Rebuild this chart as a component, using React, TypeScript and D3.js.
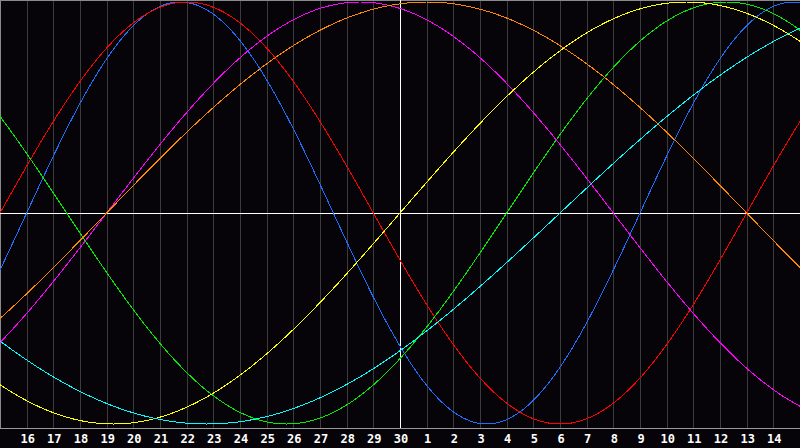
import React, { useEffect, useRef } from "react";
import * as d3 from "d3";

// Day labels on the grid lines (index 1..29); index 15 is "today" (30)
const dayLabels = ["16","17","18","19","20","21","22","23","24","25","26","27","28","29","30","1","2","3","4","5","6","7","8","9","10","11","12","13","14"];
const todayIndex = 15;
// cycles: period in days, phase (days into the cycle on "today")
const cycleNames = ["Physical","Emotional","Intellectual","Intuitive","Aesthetic","Awareness","Spiritual"];
const cyclePeriods = [23, 28, 33, 38, 43, 48, 53];
const cyclePhases = [14, 15, 29, 11, 0, 11, 47];
const cycleColors = ["#1f6fff", "#ff0000", "#00ee00", "#ff00ff", "#ffff00", "#ff8800", "#00ffff"];

const W = 800, H = 448;

export default function App() {
  const ref = useRef<SVGSVGElement>(null);
  useEffect(() => {
    document.body.style.margin = "0";
    const svg = d3.select(ref.current);
    svg.selectAll("*").remove();
    const x = d3.scaleLinear().domain([0, 30]).range([0, 800]);
    const y = d3.scaleLinear().domain([-1, 1]).range([424, 2]);
    svg.append("rect").attr("width", W).attr("height", H).attr("fill", "#060408");
    // grid
    const g = svg.append("g").attr("shape-rendering", "crispEdges");
    g.selectAll("line.grid").data(dayLabels).enter().append("line")
      .attr("x1", (_, i) => Math.round(x(i + 1)) + 0.5).attr("x2", (_, i) => Math.round(x(i + 1)) + 0.5)
      .attr("y1", 0).attr("y2", 428)
      .attr("stroke", "#3c3c3c").attr("stroke-width", 1);
    // border
    g.append("line").attr("x1", 0.5).attr("x2", 0.5).attr("y1", 0).attr("y2", 429).attr("stroke", "#8a8a8a");
    g.append("line").attr("x1", 0).attr("x2", 800).attr("y1", 0.5).attr("y2", 0.5).attr("stroke", "#8a8a8a");
    g.append("line").attr("x1", 0).attr("x2", 800).attr("y1", 428.5).attr("y2", 428.5).attr("stroke", "#9a9a9a");
    // curves
    const steps = d3.range(0, 30.0001, 0.02);
    const line = d3.line<number>().x(d => x(d)).y(d => d);
    cyclePeriods.forEach((p, ci) => {
      const pts: [number, number][] = steps.map(s => {
        const t = cyclePhases[ci] + (s - todayIndex);
        return [x(s), y(Math.sin((2 * Math.PI * t) / p))];
      });
      svg.append("path")
        .attr("d", d3.line()(pts) as string)
        .attr("fill", "none")
        .attr("stroke", cycleColors[ci])
        .attr("stroke-width", 1)
        .attr("shape-rendering", "crispEdges")
        .append("title").text(cycleNames[ci]);
    });
    // axes (white)
    g.append("line").attr("x1", 0).attr("x2", 800).attr("y1", y(0) + 0.5).attr("y2", y(0) + 0.5).attr("stroke", "#ffffff");
    g.append("line").attr("x1", x(todayIndex) + 0.5).attr("x2", x(todayIndex) + 0.5).attr("y1", 0).attr("y2", 428).attr("stroke", "#ffffff");
    // labels
    svg.selectAll("text.day").data(dayLabels).enter().append("text")
      .attr("x", (_, i) => x(i + 1) + 1).attr("y", 443)
      .attr("text-anchor", "middle")
      .attr("fill", "#ffffff")
      .attr("font-family", "DejaVu Sans Mono, monospace")
      .attr("font-weight", "bold")
      .attr("font-size", 12)
      .text(d => d);
  }, []);
  return <svg ref={ref} width={W} height={H} style={{ position: "absolute", left: 0, top: 0, display: "block" }} />;
}
